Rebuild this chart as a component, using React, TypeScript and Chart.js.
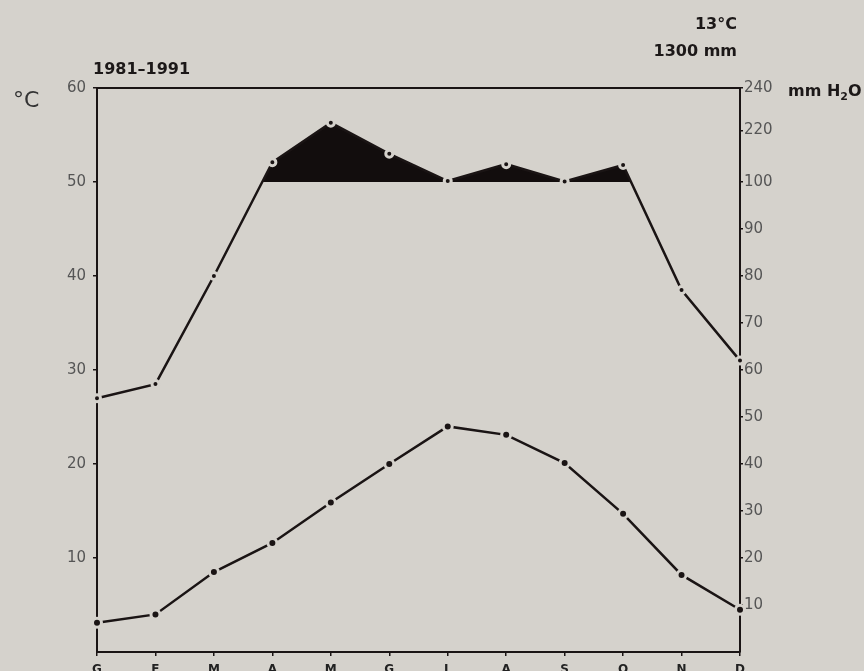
import React, { useEffect, useRef } from "react";
import { Chart, registerables } from "chart.js";

Chart.register(...registerables);

// ---- data ----
const MONTHS = ["G", "F", "M", "A", "M", "G", "L", "A", "S", "O", "N", "D"];
const TEMPERATURE_C = [3.1, 4.0, 8.5, 11.6, 15.9, 20.0, 24.0, 23.1, 20.1, 14.7, 8.2, 4.5];
const PRECIPITATION_MM = [54, 57, 80, 142, 226, 160, 102, 138, 101, 136, 77, 62];
const LEFT_TICKS = [10, 20, 30, 40, 50, 60];
const RIGHT_TICK_VALUES = [5, 10, 15, 20, 25, 30, 35, 40, 45, 50, 55.5, 60];
const RIGHT_TICK_LABELS = ["10", "20", "30", "40", "50", "60", "70", "80", "90", "100", "220", "240"];

// Walter–Lieth scale: 2 mm per °C up to 100 mm, 1/10 of that above
const mmToAxis = (mm: number) => (mm <= 100 ? mm / 2 : 50 + (mm - 100) / 20);

const BG = "#d5d2cc";
const INK = "#1a1414";
const FONT = "'DejaVu Sans', sans-serif";

const frameTop = {
  id: "frameTop",
  beforeDatasetsDraw(chart: any) {
    const { ctx, chartArea } = chart;
    ctx.save();
    ctx.strokeStyle = INK;
    ctx.lineWidth = 2;
    ctx.beginPath();
    ctx.moveTo(chartArea.left - 1, chartArea.top);
    ctx.lineTo(chartArea.right + 1, chartArea.top);
    ctx.stroke();
    ctx.restore();
  },
};

export default function App() {
  const ref = useRef<HTMLCanvasElement | null>(null);

  useEffect(() => {
    if (!ref.current) return;
    const chart = new Chart(ref.current, {
      type: "line",
      data: {
        labels: MONTHS,
        datasets: [
          {
            label: "Precipitazioni",
            data: PRECIPITATION_MM.map(mmToAxis),
            yAxisID: "y",
            borderColor: INK,
            borderWidth: 2.5,
            tension: 0,
            fill: { target: { value: 50 }, above: "#120d0d", below: "rgba(0,0,0,0)" },
            pointRadius: 3.5,
            pointBorderWidth: 3,
            pointBackgroundColor: INK,
            pointBorderColor: BG,
            clip: false,
          } as any,
          {
            label: "Temperatura",
            data: TEMPERATURE_C,
            yAxisID: "y",
            borderColor: INK,
            borderWidth: 2.5,
            tension: 0,
            fill: false,
            pointRadius: 4.5,
            pointBorderWidth: 3,
            pointBackgroundColor: INK,
            pointBorderColor: BG,
            clip: false,
          } as any,
        ],
      },
      options: {
        animation: false,
        responsive: false,
        devicePixelRatio: 1,
        layout: { padding: { top: 88, left: 0, right: 0, bottom: 0 } },
        plugins: {
          legend: { display: false },
          tooltip: { enabled: false },
          title: { display: false },
        },
        scales: {
          x: {
            type: "category",
            offset: false,
            afterFit: (s: any) => {
              s.height = 19;
            },
            grid: { drawOnChartArea: false, tickLength: 4, color: INK, lineWidth: 1.5 },
            border: { display: true, color: INK, width: 2 },
            ticks: {
              font: { family: FONT, size: 12, weight: "bold" },
              color: "#222",
              padding: 7,
              maxRotation: 0,
              autoSkip: false,
            },
          },
          y: {
            type: "linear",
            position: "left",
            min: 0,
            max: 60,
            afterFit: (s: any) => {
              s.width = 97;
            },
            afterBuildTicks: (s: any) => {
              s.ticks = LEFT_TICKS.map((v) => ({ value: v }));
            },
            grid: { drawOnChartArea: false, tickLength: 4, color: INK, lineWidth: 1.5 },
            border: { display: true, color: INK, width: 2 },
            ticks: {
              font: { family: FONT, size: 15 },
              color: "#555",
              padding: 7,
              autoSkip: false,
            },
          },
          y1: {
            type: "linear",
            position: "right",
            min: 0,
            max: 60,
            afterFit: (s: any) => {
              s.width = 124;
            },
            afterBuildTicks: (s: any) => {
              s.ticks = RIGHT_TICK_VALUES.map((v) => ({ value: v }));
            },
            grid: { drawOnChartArea: false, tickLength: 3, color: INK, lineWidth: 1.5 },
            border: { display: true, color: INK, width: 2 },
            ticks: {
              font: { family: FONT, size: 15 },
              color: "#555",
              padding: 1,
              autoSkip: false,
              callback: (_v: any, i: number) => RIGHT_TICK_LABELS[i],
            },
          },
        },
      } as any,
      plugins: [frameTop],
    });
    return () => chart.destroy();
  }, []);

  const txt: React.CSSProperties = {
    position: "absolute",
    fontFamily: FONT,
    lineHeight: 1,
    color: "#1c1818",
    whiteSpace: "nowrap",
  };

  return (
    <div
      style={{
        position: "fixed",
        left: 0,
        top: 0,
        width: 864,
        height: 671,
        background: BG,
        overflow: "hidden",
      }}
    >
      <canvas ref={ref} width={864} height={671} style={{ position: "absolute", left: 0, top: 0 }} />
      <div style={{ ...txt, left: 13, top: 89, fontSize: 22, color: "#333" }}>°C</div>
      <div style={{ ...txt, left: 93, top: 61, fontSize: 16, fontWeight: "bold" }}>1981–1991</div>
      <div style={{ ...txt, right: 127, top: 16, fontSize: 16, fontWeight: "bold" }}>13°C</div>
      <div style={{ ...txt, right: 127, top: 43, fontSize: 16, fontWeight: "bold" }}>1300 mm</div>
      <div style={{ ...txt, left: 788, top: 83, fontSize: 16, fontWeight: "bold" }}>
        mm H<sub style={{ fontSize: 11, verticalAlign: "-4px", lineHeight: 0 }}>2</sub>O
      </div>
    </div>
  );
}
